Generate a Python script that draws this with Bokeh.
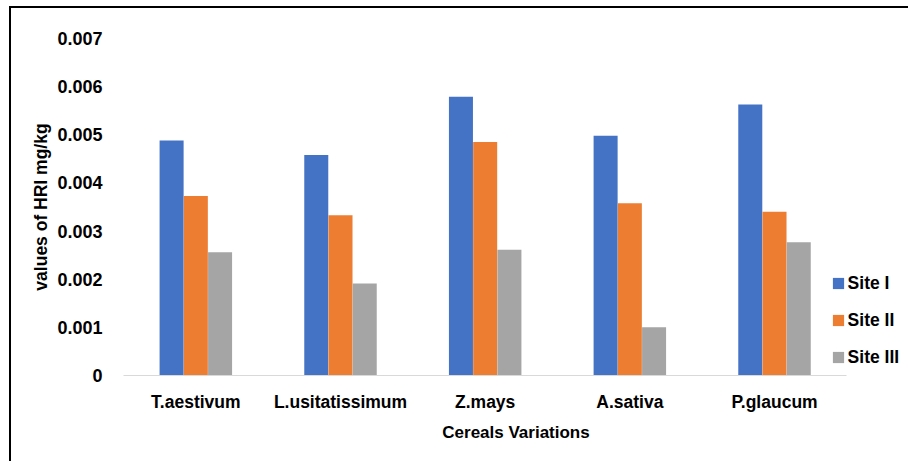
from bokeh.plotting import figure
from bokeh.models import ColumnDataSource, Range1d, FixedTicker, CustomJSTickFormatter
from bokeh.transform import dodge
from bokeh.embed import file_html
from bokeh.resources import INLINE

categories = ["T.aestivum", "L.usitatissimum", "Z.mays", "A.sativa", "P.glaucum"]
site_i = [0.00488, 0.00458, 0.00579, 0.00498, 0.00563]
site_ii = [0.00373, 0.00333, 0.00485, 0.00358, 0.00340]
site_iii = [0.00256, 0.00191, 0.00261, 0.00100, 0.00277]
series_names = ["Site I", "Site II", "Site III"]
colors = ["#4472C4", "#ED7D31", "#A5A5A5"]
y_ticks = [0, 0.001, 0.002, 0.003, 0.004, 0.005, 0.006, 0.007]

FONT = "Liberation Sans"

idx = list(range(len(categories)))
source = ColumnDataSource(dict(x=idx, cat=categories, s1=site_i, s2=site_ii, s3=site_iii))

FRAME_W = 785
CAT_PX = 144.67
p = figure(
    x_range=Range1d(-0.5, -0.5 + FRAME_W / CAT_PX),
    y_range=Range1d(0, 0.007),
    frame_width=FRAME_W, frame_height=337,
    min_border_left=112, min_border_right=0,
    min_border_top=30, min_border_bottom=86,
    output_backend="svg", toolbar_location=None,
)
p.margin = (6, 0, 0, 9)
p.styles = {"border-top": "2px solid #000", "border-left": "2px solid #000"}

offsets = [-0.1675, 0.0, 0.1675]
for key, off, col, name in zip(["s1", "s2", "s3"], offsets, colors, series_names):
    p.vbar(x=dodge("x", off), top=key, width=0.166,
           source=source, fill_color=col, line_color=None, legend_label=name)

p.outline_line_color = None
p.xgrid.grid_line_color = None
p.ygrid.grid_line_color = None

# x axis
p.xaxis.ticker = FixedTicker(ticks=idx)
p.xaxis.major_label_overrides = {i: c for i, c in zip(idx, categories)}
p.xaxis.bounds = (-0.5, len(categories) - 0.5)
p.xaxis.axis_line_color = "#D9D9D9"
p.xaxis.axis_line_width = 1
p.xaxis.major_tick_line_color = None
p.xaxis.minor_tick_line_color = None
p.xaxis.major_label_text_font = FONT
p.xaxis.major_label_text_font_style = "bold"
p.xaxis.major_label_text_font_size = "17.5px"
p.xaxis.major_label_text_color = "black"
p.xaxis.major_label_standoff = 10
p.xaxis.axis_label = "Cereals Variations"
p.xaxis.axis_label_text_font = FONT
p.xaxis.axis_label_text_font_style = "bold"
p.xaxis.axis_label_text_font_size = "17px"
p.xaxis.axis_label_text_color = "black"
p.xaxis.axis_label_standoff = 8

# y axis
p.yaxis.ticker = FixedTicker(ticks=y_ticks)
p.yaxis.formatter = CustomJSTickFormatter(code='return tick < 1e-9 ? "0" : tick.toFixed(3);')
p.yaxis.axis_line_color = None
p.yaxis.major_tick_line_color = None
p.yaxis.minor_tick_line_color = None
p.yaxis.major_label_text_font = FONT
p.yaxis.major_label_text_font_style = "bold"
p.yaxis.major_label_text_font_size = "18px"
p.yaxis.major_label_text_color = "black"
p.yaxis.major_label_standoff = 15
p.yaxis.axis_label = "values of HRI mg/kg"
p.yaxis.axis_label_text_font = FONT
p.yaxis.axis_label_text_font_style = "bold"
p.yaxis.axis_label_text_font_size = "17.5px"
p.yaxis.axis_label_text_color = "black"
p.yaxis.axis_label_standoff = 3

# legend
lg = p.legend[0]
lg.location = (707.6, 7.5)
lg.border_line_color = None
lg.background_fill_alpha = 0
lg.padding = 0
lg.margin = 0
lg.glyph_width = 14
lg.glyph_height = 14
lg.label_height = 20
lg.spacing = 16
lg.label_standoff = 3
lg.label_text_font = FONT
lg.label_text_font_style = "bold"
lg.label_text_font_size = "17.5px"
lg.label_text_color = "black"

open("out.html", "w").write(file_html(p, INLINE))
